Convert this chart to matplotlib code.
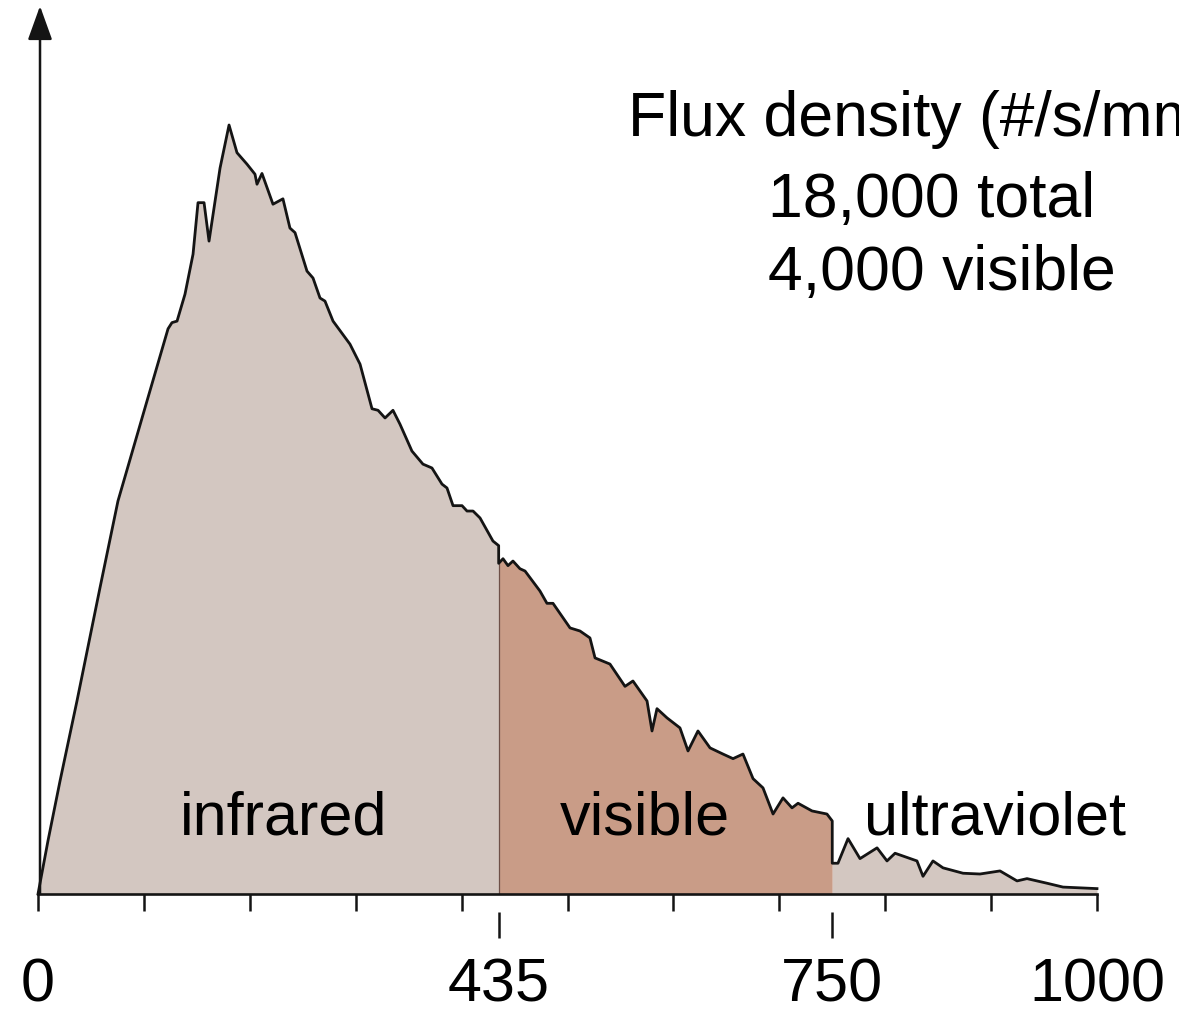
import numpy as np
import matplotlib
matplotlib.use('Agg')
import matplotlib.pyplot as plt

plt.rcParams['font.family'] = ['Liberation Sans', 'DejaVu Sans']

# frequency (THz) and relative photon flux density (peak = 100)
ir_freq = [0, 9.4, 20.8, 36.8, 58.5, 75.5, 102.9, 122.8, 126.5, 131.3, 138.8, 146.4,
           151.1, 156.8, 161.5, 171.9, 180.4, 187.9, 197.4, 204.9, 206.8, 211.5, 221.9,
           231.3, 237.9, 242.7, 254.0, 259.7, 266.3, 271.0, 278.6, 294.6, 304.1, 315.4,
           321.1, 327.7, 335.2, 341.8, 353.1, 363.5, 372.0, 381.5, 386.2, 391.9, 400.4,
           405.1, 410.8, 417.4, 429.6, 435]
ir_flux = [0, 6.9, 14.7, 25.1, 39.8, 51.1, 64.1, 73.5, 74.3, 74.5, 78.0, 83.2,
           89.9, 89.9, 84.9, 94.4, 100, 96.4, 94.9, 93.6, 92.3, 93.7, 89.7,
           90.4, 86.6, 86.0, 81.0, 80.1, 77.5, 77.1, 74.5, 71.5, 68.9, 63.1,
           62.9, 61.9, 62.9, 61.1, 57.6, 55.9, 55.4, 53.3, 52.8, 50.5, 50.5,
           49.8, 49.8, 48.9, 45.9, 45.3]

vis_freq = [435, 439.1, 443.8, 448.5, 455.1, 459.9, 474.0, 480.6, 486.3, 502.4, 511.8,
            521.2, 526.0, 540.1, 554.3, 561.8, 575.1, 579.8, 584.5, 594.0, 606.2, 613.8,
            623.2, 634.6, 646.8, 656.3, 665.7, 675.2, 684.6, 694.1, 703.5, 712.0, 717.7,
            730.9, 745.0, 750]
vis_flux = [43.0, 43.6, 42.7, 43.3, 42.3, 42.0, 39.4, 37.8, 37.8, 34.6, 34.2,
            33.3, 30.7, 29.9, 27.0, 27.7, 25.1, 21.2, 24.1, 22.9, 21.6, 18.6,
            21.2, 19.0, 18.2, 17.6, 18.2, 15.0, 13.8, 10.4, 12.5, 11.2, 11.8,
            10.8, 10.4, 9.5]

uv_freq = [750, 755.4, 764.9, 776.2, 792.3, 801.7, 809.3, 830.0, 835.7, 845.1, 854.6,
           873.5, 889.5, 908.4, 924.5, 933.9, 952.8, 967.9, 1000]
uv_flux = [4.0, 4.0, 7.2, 4.6, 6.0, 4.3, 5.3, 4.3, 2.3, 4.3, 3.4,
           2.7, 2.6, 3.0, 1.7, 2.0, 1.4, 0.9, 0.7]

grid_freqs = list(range(0, 1001, 100))
edge_freqs = [435, 750]
band_names = ['infrared', 'visible', 'ultraviolet']
band_centers = [232, 573, 904]
note_lines = ['Flux density (#/s/mm²)', '18,000 total', '4,000 visible']

ir_color = '#d3c7c1'
vis_color = '#c99c87'
line_color = '#141414'

W, H = 1179, 1015
fig = plt.figure(figsize=(W / 100, H / 100), dpi=100)
fig.patch.set_facecolor('white')
# axes: x 0..1000 spans px 38..1097, y=0 at px 894
ax = fig.add_axes([38 / W, (H - 894) / H, (1097 - 38) / W, (894 - 6) / H])
ax.set_facecolor('none')
ax.set_xlim(0, 1000)
ytop = (894 - 6) / 7.69
ax.set_ylim(0, ytop)

ax.fill_between(ir_freq, ir_flux, color=ir_color, lw=0)
ax.fill_between(vis_freq, vis_flux, color=vis_color, lw=0)
ax.fill_between(uv_freq, uv_flux, color=ir_color, lw=0)
ax.vlines(435, 0, 43.0, color='#6e5048', lw=0.9)

all_f = ir_freq + vis_freq + uv_freq
all_y = ir_flux + vis_flux + uv_flux
ax.plot(all_f, all_y, color=line_color, lw=2.0, clip_on=False)

for s in ['top', 'right', 'left']:
    ax.spines[s].set_visible(False)
ax.spines['bottom'].set_linewidth(1.9)
ax.spines['bottom'].set_color(line_color)

ax.set_yticks([])
# regular ticks every 100, labels only at the ends
ax.set_xticks(grid_freqs)
ax.set_xticklabels(['0' if f == 0 else '1000' if f == 1000 else '' for f in grid_freqs])
ax.tick_params(axis='x', which='major', direction='out', length=12, width=1.8,
               color=line_color, pad=34, labelsize=44)
# band edge labels
ax.set_xticks(edge_freqs, minor=True)
ax.set_xticklabels([str(f) for f in edge_freqs], minor=True)
ax.tick_params(axis='x', which='minor', length=0, pad=46, labelsize=44)

# separate marks below the axis for the band edges
ax.vlines(edge_freqs, -5.7, -2.4, color=line_color, lw=1.8, clip_on=False)

# y axis arrow
ax.annotate('', xy=(1.9, ytop), xytext=(1.9, 0), xycoords='data',
            arrowprops=dict(arrowstyle='-|>,head_length=0.75,head_width=0.27', lw=1.8,
                            color=line_color, mutation_scale=28, shrinkA=0, shrinkB=0),
            annotation_clip=False)

for name, cx in zip(band_names, band_centers):
    ax.text(cx, 7.8, name, ha='center', va='baseline', fontsize=44, color='black')

ax.text(557, 98.6, note_lines[0], ha='left', va='baseline', fontsize=45, color='black')
ax.text(689, 88.0, note_lines[1], ha='left', va='baseline', fontsize=45, color='black')
ax.text(689, 78.5, note_lines[2], ha='left', va='baseline', fontsize=45, color='black')

fig.savefig('out.png', dpi=100, facecolor='white')
